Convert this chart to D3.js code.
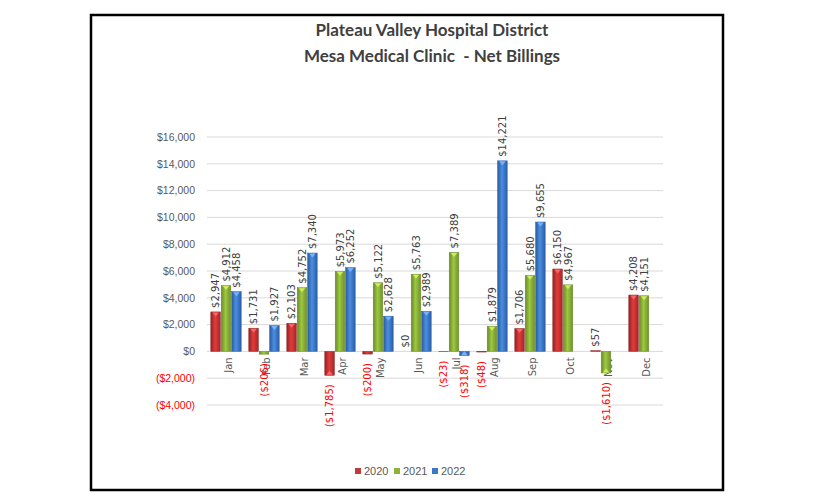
<!DOCTYPE html>
<html><head><meta charset="utf-8">
<script src="https://cdn.jsdelivr.net/npm/d3@7"></script>
<style>
html,body{margin:0;padding:0;background:#fff;}
svg{display:block;}
</style></head>
<body>
<svg id="c" width="816" height="504"></svg>
<script>
const months = ["Jan","Feb","Mar","Apr","May","Jun","Jul","Aug","Sep","Oct","Nov","Dec"];
const seriesNames = ["2020","2021","2022"];
const v2020 = [2947,1731,2103,-1785,-200,0,-23,-48,1706,6150,57,4208];
const v2021 = [4912,-206,4752,5973,5122,5763,7389,1879,5680,4967,-1610,4151];
const v2022 = [4458,1927,7340,6252,2628,2989,-318,14221,9655,null,null,null];
const yTicks = [-4000,-2000,0,2000,4000,6000,8000,10000,12000,14000,16000];
const titleLines = ["Plateau Valley Hospital District","Mesa Medical Clinic  - Net Billings"];
const colors = {"2020":["#8e2424","#e8393a","#9c2a2a"],"2021":["#6a8a2a","#9cc83e","#6f9030"],"2022":["#2a5aa0","#4a8ee0","#2c5ea8"]};
const capColors = {"2020":"#ff6a6a","2021":"#d8f060","2022":"#7ab8ff"};
const legendColors = {"2020":"#c0393b","2021":"#8db43a","2022":"#3c78c8"};

const values = [v2020,v2021,v2022];
const svg = d3.select("#c");
const fmt = v => v < 0 ? "($" + d3.format(",")(-v) + ")" : "$" + d3.format(",")(v);

// frame
svg.append("rect").attr("x",91).attr("y",15).attr("width",632).attr("height",475)
  .attr("fill","#fff").attr("stroke","#000").attr("stroke-width",2.5);

// title
svg.append("g").selectAll("text").data(titleLines).join("text")
  .attr("x",432).attr("y",(d,i)=>36+i*26).attr("text-anchor","middle")
  .style("white-space","pre")
  .attr("font-family","Lato, 'Open Sans', sans-serif").attr("font-weight","bold")
  .attr("font-size",17).attr("fill","#404040").text(d=>d);

const y = d3.scaleLinear().domain([-4000,16000]).range([405,137]);
const x = d3.scaleBand().domain(months).range([207,663]).paddingInner(0.2).paddingOuter(0.1);
const xs = d3.scaleBand().domain(seriesNames).range([0,x.bandwidth()]).paddingInner(0.08);

// defs gradients
const defs = svg.append("defs");
seriesNames.forEach(s=>{
  const g = defs.append("linearGradient").attr("id","g"+s).attr("x1","0").attr("x2","1").attr("y1","0").attr("y2","0");
  g.append("stop").attr("offset","0%").attr("stop-color",colors[s][0]);
  g.append("stop").attr("offset","45%").attr("stop-color",colors[s][1]);
  g.append("stop").attr("offset","100%").attr("stop-color",colors[s][2]);
});

// gridlines
svg.append("g").selectAll("line").data(yTicks).join("line")
  .attr("x1",207).attr("x2",663).attr("y1",d=>y(d)).attr("y2",d=>y(d))
  .attr("stroke","#d9d9d9").attr("stroke-width",1);

// y axis labels
const yAxis = d3.axisLeft(y).tickValues(yTicks).tickFormat(fmt).tickSize(0).tickPadding(0);
const ya = svg.append("g").attr("transform","translate(195,0)").call(yAxis);
ya.select(".domain").remove();
ya.selectAll("text").attr("font-family","'Liberation Sans', Arial, sans-serif").attr("font-size",10.5)
  .attr("fill",d=>d<0?"#ff0000":"#595959");

// category labels
const xa = svg.append("g").attr("transform","translate(0,"+y(0)+")").call(d3.axisBottom(x).tickSize(0).tickPadding(0));
xa.select(".domain").remove();
xa.selectAll("text").attr("transform","translate(2,6) rotate(-90)").attr("text-anchor","end")
  .attr("dy","0.35em").attr("x",0).attr("y",0)
  .attr("font-family","'DejaVu Sans', sans-serif").attr("font-size",10).attr("fill","#595959");

// bars
const data = [];
seriesNames.forEach((s,si)=>months.forEach((m,mi)=>{
  const v = values[si][mi];
  if (v !== null) data.push({s,m,v});
}));

const bars = svg.append("g");
bars.selectAll("rect").data(data).join("rect")
  .attr("x",d=>x(d.m)+xs(d.s)).attr("width",xs.bandwidth())
  .attr("y",d=>Math.min(y(d.v),y(0))).attr("height",d=>Math.abs(y(d.v)-y(0)))
  .attr("fill",d=>"url(#g"+d.s+")").attr("stroke",d=>colors[d.s][0]).attr("stroke-width",0.5);

// top cap highlight
bars.selectAll("path").data(data.filter(d=>Math.abs(y(d.v)-y(0))>4)).join("path")
  .attr("d",d=>{
    const x0 = x(d.m)+xs(d.s), w = xs.bandwidth(), yy = y(d.v);
    const dir = d.v>=0?1:-1;
    return `M${x0+1.5},${yy+dir*0.5} L${x0+w-1.5},${yy+dir*0.5} L${x0+w/2},${yy+dir*4.5} Z`;
  })
  .attr("fill",d=>capColors[d.s]).attr("opacity",0.9);

// data labels
svg.append("g").selectAll("text").data(data).join("text")
  .attr("transform",d=>{
    const cx = x(d.m)+xs(d.s)+xs.bandwidth()/2;
    const yy = d.v>=0 ? y(d.v)-4 : y(d.v)+9;
    return `translate(${cx},${yy}) rotate(-90)`;
  })
  .attr("text-anchor",d=>d.v>=0?"start":"end").attr("dy","0.35em")
  .attr("font-family","'DejaVu Sans', sans-serif").attr("font-size",10)
  .attr("fill",d=>d.v<0?"#ff0000":"#404040").text(d=>fmt(d.v));

// legend
const lx = [355,394,432];
const lg = svg.append("g").selectAll("g").data(seriesNames).join("g")
  .attr("transform",(d,i)=>`translate(${lx[i]},468)`);
lg.append("rect").attr("width",6).attr("height",6).attr("fill",d=>legendColors[d]);
lg.append("text").attr("x",9).attr("y",3).attr("dy","0.35em")
  .attr("font-family","'Liberation Sans', Arial, sans-serif").attr("font-size",11).attr("fill","#595959").text(d=>d);
</script>
</body></html>
